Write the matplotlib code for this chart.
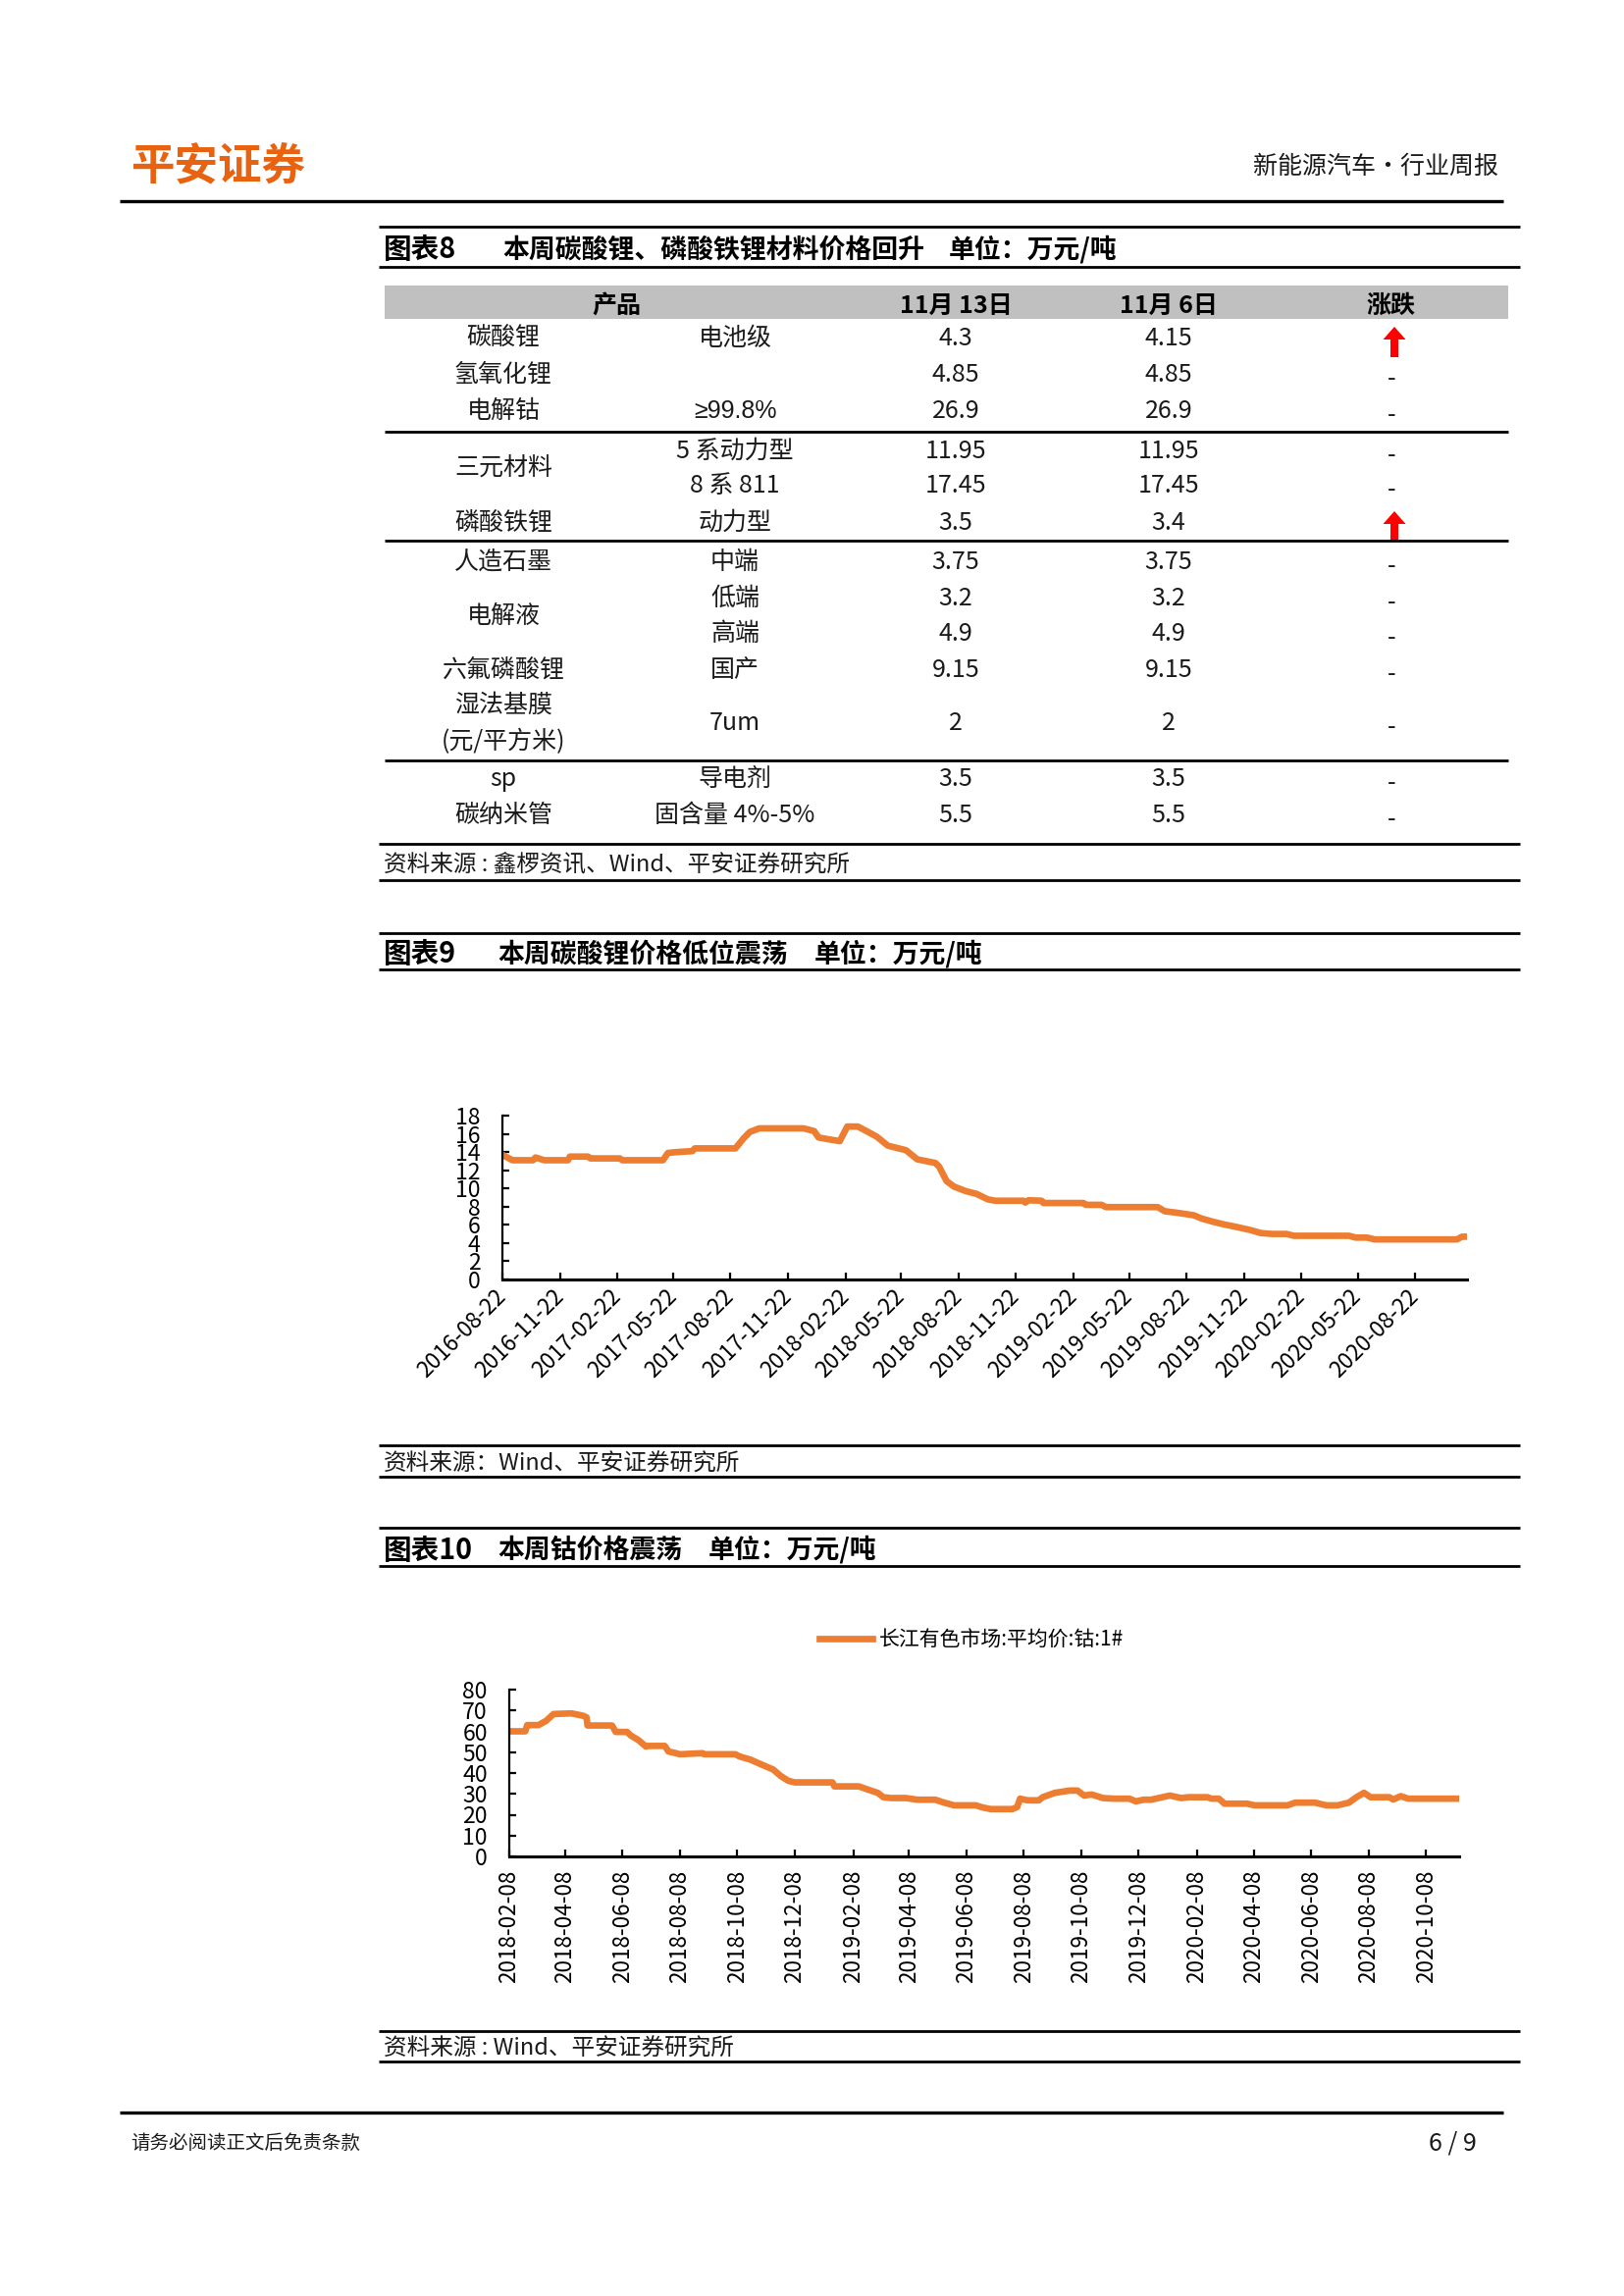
import numpy as np
import pandas as pd
import matplotlib
matplotlib.use('Agg')
import matplotlib.pyplot as plt
from matplotlib.patches import Rectangle, FancyArrow

plt.rcParams['font.family'] = ['Noto Sans CJK SC', 'DejaVu Sans']
plt.rcParams['axes.unicode_minus'] = False

W, H = 1655, 2340
ORANGE = '#ED7D31'
LOGO = '#E8620F'
TXT = '#1a1a1a'
DY = 3  # small downward nudge for CJK text baseline

# ---------------- 图表8 数据 ----------------
product_names = ['碳酸锂', '氢氧化锂', '电解钴', '三元材料', '三元材料', '磷酸铁锂', '人造石墨',
                 '电解液', '电解液', '六氟磷酸锂', '湿法基膜\n(元/平方米)', 'sp', '碳纳米管']
specs = ['电池级', '', '≥99.8%', '5 系动力型', '8 系 811', '动力型', '中端',
         '低端', '高端', '国产', '7um', '导电剂', '固含量 4%-5%']
price_nov13 = [4.3, 4.85, 26.9, 11.95, 17.45, 3.5, 3.75, 3.2, 4.9, 9.15, 2, 3.5, 5.5]
price_nov06 = [4.15, 4.85, 26.9, 11.95, 17.45, 3.4, 3.75, 3.2, 4.9, 9.15, 2, 3.5, 5.5]
table_header = ['产品', '11月 13日', '11月 6日', '涨跌']

# ---------------- 图表9 碳酸锂价格 ----------------
li_dates = ['2016-08-22', '2016-09-07', '2016-10-10', '2016-10-14', '2016-10-28', '2016-12-05',
            '2016-12-08', '2017-01-06', '2017-01-10', '2017-02-26', '2017-03-02', '2017-05-06',
            '2017-05-14', '2017-05-29', '2017-06-22', '2017-06-26', '2017-08-30', '2017-09-12',
            '2017-09-22', '2017-10-07', '2017-12-17', '2018-01-03', '2018-01-10', '2018-01-26',
            '2018-02-13', '2018-02-25', '2018-03-14', '2018-04-13', '2018-05-01', '2018-05-30',
            '2018-06-17', '2018-07-16', '2018-07-22', '2018-08-03', '2018-08-15', '2018-09-03',
            '2018-09-20', '2018-10-08', '2018-10-20', '2018-12-04', '2018-12-07', '2018-12-12',
            '2019-01-02', '2019-01-05', '2019-03-10', '2019-03-14', '2019-04-08', '2019-04-15',
            '2019-07-07', '2019-07-18', '2019-08-10', '2019-09-03', '2019-09-15', '2019-10-03',
            '2019-10-21', '2019-11-08', '2019-12-01', '2019-12-19', '2020-01-06', '2020-01-29',
            '2020-02-10', '2020-05-08', '2020-05-19', '2020-06-06', '2020-06-18', '2020-10-28',
            '2020-11-05', '2020-11-13']
li_price = [13.7, 13.1, 13.1, 13.4, 13.1, 13.1, 13.5, 13.5, 13.3, 13.3, 13.1, 13.1,
            13.9, 14.0, 14.1, 14.4, 14.4, 15.5, 16.2, 16.6, 16.6, 16.3, 15.6, 15.4,
            15.2, 16.8, 16.8, 15.7, 14.7, 14.2, 13.2, 12.8, 12.4, 10.8, 10.2, 9.7,
            9.4, 8.8, 8.65, 8.65, 8.45, 8.7, 8.65, 8.4, 8.4, 8.2, 8.2, 7.95,
            7.95, 7.5, 7.3, 7.05, 6.7, 6.35, 6.05, 5.8, 5.45, 5.1, 5.0, 5.0,
            4.8, 4.8, 4.6, 4.6, 4.4, 4.4, 4.7, 4.7]
li_ticks = ['2016-08-22', '2016-11-22', '2017-02-22', '2017-05-22', '2017-08-22', '2017-11-22',
            '2018-02-22', '2018-05-22', '2018-08-22', '2018-11-22', '2019-02-22', '2019-05-22',
            '2019-08-22', '2019-11-22', '2020-02-22', '2020-05-22', '2020-08-22']

# ---------------- 图表10 钴价格 ----------------
co_label = '长江有色市场:平均价:钴:1#'
co_dates = ['2018-02-08', '2018-02-25', '2018-02-27', '2018-03-11', '2018-03-19', '2018-03-27',
            '2018-04-15', '2018-04-27', '2018-05-01', '2018-05-02', '2018-05-28', '2018-06-01',
            '2018-06-13', '2018-06-17', '2018-06-25', '2018-07-03', '2018-07-06', '2018-07-23',
            '2018-07-27', '2018-08-04', '2018-08-08', '2018-09-01', '2018-09-03', '2018-10-06',
            '2018-10-10', '2018-10-22', '2018-11-03', '2018-11-15', '2018-11-23', '2018-12-01',
            '2018-12-08', '2019-01-17', '2019-01-19', '2019-02-14', '2019-02-22', '2019-03-06',
            '2019-03-12', '2019-03-20', '2019-04-05', '2019-04-17', '2019-05-06', '2019-05-14',
            '2019-05-26', '2019-06-18', '2019-06-26', '2019-07-04', '2019-07-27', '2019-08-01',
            '2019-08-04', '2019-08-12', '2019-08-24', '2019-08-28', '2019-09-10', '2019-09-26',
            '2019-10-04', '2019-10-11', '2019-10-19', '2019-10-31', '2019-11-12', '2019-11-28',
            '2019-12-05', '2019-12-13', '2019-12-21', '2020-01-02', '2020-01-10', '2020-01-22',
            '2020-01-30', '2020-02-19', '2020-02-23', '2020-03-02', '2020-03-08', '2020-04-01',
            '2020-04-09', '2020-05-14', '2020-05-22', '2020-06-12', '2020-06-24', '2020-07-06',
            '2020-07-18', '2020-07-26', '2020-08-03', '2020-08-10', '2020-08-30', '2020-09-03',
            '2020-09-11', '2020-09-19', '2020-11-12']
co_price = [60, 60, 63, 63, 65, 68.3, 68.6, 67.5, 66.7, 62.8, 62.8, 59.7,
            59.7, 58, 55.8, 52.7, 53, 53, 50.3, 49.5, 49, 49.5, 49, 49,
            48, 46.4, 44, 41.7, 38.6, 36.3, 35.5, 35.5, 33.6, 33.6, 32.3, 30.5,
            28.4, 28, 28, 27.2, 27.2, 26, 24.5, 24.5, 23.4, 22.7, 22.7, 23.7,
            27.7, 26.9, 26.9, 28.4, 30.5, 31.6, 31.6, 29.2, 29.7, 28, 27.7, 27.7,
            26.4, 27.2, 27.2, 28.4, 29.2, 28, 28.4, 28.4, 27.7, 27.7, 25.3, 25.3,
            24.5, 24.5, 25.8, 25.8, 24.5, 24.5, 25.8, 28.4, 30.5, 28.4, 28.4, 27.3,
            28.9, 27.7, 27.7]
co_ticks = ['2018-02-08', '2018-04-08', '2018-06-08', '2018-08-08', '2018-10-08', '2018-12-08',
            '2019-02-08', '2019-04-08', '2019-06-08', '2019-08-08', '2019-10-08', '2019-12-08',
            '2020-02-08', '2020-04-08', '2020-06-08', '2020-08-08', '2020-10-08']


def fmt(v):
    return f'{v:g}'


fig = plt.figure(figsize=(W / 200, H / 200), dpi=200)
page = fig.add_axes([0, 0, 1, 1])
page.set_xlim(0, W)
page.set_ylim(H, 0)
page.axis('off')


def hline(y, x0, x1, lw=1.0):
    page.plot([x0, x1], [y, y], color='black', lw=lw, solid_capstyle='butt')


# page header / footer
page.text(134, 167 + DY, '平安证券', fontsize=16, fontweight='bold', color=LOGO, va='center', ha='left')
page.text(1527, 167 + DY, '新能源汽车·行业周报', fontsize=9, color=TXT, va='center', ha='right')
hline(205, 122, 1532, lw=1.2)
hline(2153, 122, 1532, lw=1.2)
page.text(133, 2181 + DY, '请务必阅读正文后免责条款', fontsize=7, color=TXT, va='center', ha='left')
page.text(1505, 2181 + DY, '6 / 9', fontsize=9, color=TXT, va='center', ha='right')


def chart_title(y_top, y_bot, num, title, unit, x_title, x_unit):
    hline(y_top, 386, 1549)
    hline(y_bot, 386, 1549)
    yc = (y_top + y_bot) / 2 + DY
    page.text(391, yc, num, fontsize=10.3, fontweight='bold', color='black', va='center')
    page.text(x_title, yc, title, fontsize=9.7, fontweight='bold', color='black', va='center')
    page.text(x_unit, yc, unit, fontsize=9.7, fontweight='bold', color='black', va='center')


def source(y_top, y_bot, txt):
    hline(y_top, 386, 1549)
    hline(y_bot, 386, 1549)
    page.text(391, (y_top + y_bot) / 2 + DY, txt, fontsize=8.5, style='italic', color=TXT, va='center')


# ---------------- 图表8 表格 ----------------
chart_title(231, 272, '图表8', '本周碳酸锂、磷酸铁锂材料价格回升', '单位：万元/吨', 512, 967)
page.add_patch(Rectangle((392, 291), 1537 - 392, 34, facecolor='#C0C0C0', edgecolor='none'))
col_x = [628, 974, 1191, 1418]
for cx, h in zip(col_x, table_header):
    page.text(cx, 309 + DY, h, fontsize=9, fontweight='bold', color='black', ha='center', va='center')

row_y = [342, 379, 416, 457, 492, 530, 570, 607, 643, 680, 734, 791, 828]
x_prod, x_spec, x_new, x_old, x_chg = 513, 749, 974, 1191, 1418

# merged product cells
i = 0
while i < len(product_names):
    j = i
    while j + 1 < len(product_names) and product_names[j + 1] == product_names[i]:
        j += 1
    yc = (row_y[i] + row_y[j]) / 2 + DY
    page.text(x_prod, yc, product_names[i], fontsize=9, color=TXT, ha='center', va='center',
              linespacing=1.55)
    i = j + 1

for k in range(len(specs)):
    y = row_y[k]
    fam = ['Liberation Sans', 'DejaVu Sans'] if specs[k].startswith('≥') else None
    page.text(x_spec, y + DY, specs[k], fontsize=9, color=TXT, ha='center', va='center', family=fam)
    page.text(x_new, y + DY, fmt(price_nov13[k]), fontsize=9, color=TXT, ha='center', va='center')
    page.text(x_old, y + DY, fmt(price_nov06[k]), fontsize=9, color=TXT, ha='center', va='center')
    if price_nov13[k] > price_nov06[k]:
        page.add_patch(FancyArrow(x_chg + 3, y + 22, 0, -31, width=8, head_width=23, head_length=13,
                                  length_includes_head=True, color='#FF0000', lw=0))
    elif price_nov13[k] < price_nov06[k]:
        page.add_patch(FancyArrow(x_chg + 3, y - 9, 0, 31, width=8, head_width=23, head_length=13,
                                  length_includes_head=True, color='#00A000', lw=0))
    else:
        page.text(x_chg, y + 4 + DY, '-', fontsize=9, color=TXT, ha='center', va='center')

for y in [440, 551, 775]:
    hline(y, 392, 1537)
source(860, 897, '资料来源 : 鑫椤资讯、Wind、平安证券研究所')

# ---------------- 图表9 ----------------
chart_title(951, 988, '图表9', '本周碳酸锂价格低位震荡', '单位：万元/吨', 507, 830)
source(1473, 1505, '资料来源：Wind、平安证券研究所')

ax9 = fig.add_axes([512 / W, 1 - 1304 / H, (1495 - 512) / W, (1304 - 1137) / H])
ax9.plot(pd.to_datetime(li_dates), li_price, color=ORANGE, lw=2.4, solid_joinstyle='round')
ax9.set_ylim(0, 18)
ax9.set_yticks(np.arange(0, 19, 2))
ax9.set_xlim(pd.Timestamp('2016-08-22'), pd.Timestamp('2020-11-13'))
ax9.set_xticks(pd.to_datetime(li_ticks))
ax9.set_xticklabels(li_ticks, rotation=45, ha='right', va='center', rotation_mode='anchor')

# ---------------- 图表10 ----------------
chart_title(1557, 1596, '图表10', '本周钴价格震荡', '单位：万元/吨', 507, 722)
source(2070, 2101, '资料来源 : Wind、平安证券研究所')

ax10 = fig.add_axes([519 / W, 1 - 1892 / H, (1487 - 519) / W, (1892 - 1722) / H])
ax10.plot(pd.to_datetime(co_dates), co_price, color=ORANGE, lw=2.4, solid_joinstyle='round',
          label=co_label)
ax10.set_ylim(0, 80)
ax10.set_yticks(np.arange(0, 81, 10))
ax10.set_xlim(pd.Timestamp('2018-02-08'), pd.Timestamp('2020-11-12'))
ax10.set_xticks(pd.to_datetime(co_ticks))
ax10.set_xticklabels(co_ticks, rotation=90, ha='center', va='top')
fig.legend(loc='center', bbox_to_anchor=(990 / W, 1 - 1671 / H), frameon=False, fontsize=7.5,
           handlelength=2.6, handletextpad=0.3)

for ax in (ax9, ax10):
    for s in ('top', 'right'):
        ax.spines[s].set_visible(False)
    ax.spines['left'].set_linewidth(0.8)
    ax.spines['bottom'].set_linewidth(1.1)
    ax.tick_params(axis='both', direction='in', length=2.5, width=0.8, colors='black')
    ax.tick_params(axis='y', labelsize=8.3, pad=8)
    ax.patch.set_alpha(0)
ax9.tick_params(axis='x', labelsize=8.2, pad=5)
ax10.tick_params(axis='x', labelsize=8.1, pad=5)

fig.savefig('out.png', dpi=200)
